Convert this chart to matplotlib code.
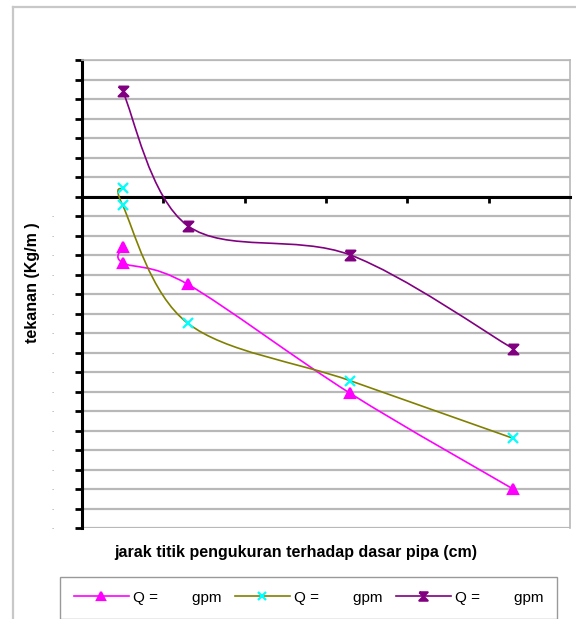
import numpy as np
import matplotlib
matplotlib.use('Agg')
import matplotlib.pyplot as plt
from matplotlib.path import Path
from matplotlib.patches import PathPatch
from matplotlib.lines import Line2D

plt.rcParams['font.family'] = ['Liberation Sans', 'DejaVu Sans']

# data (y in grid units, x in cm)
x_pink = [5, 5, 13, 33, 53]
y_pink = [-2.6, -3.4, -4.5, -10.1, -15.0]
x_cyan = [5, 5, 13, 33, 53]
y_cyan = [0.45, -0.45, -6.5, -9.45, -12.4]
x_purple = [5, 13, 33, 53]
y_purple = [5.4, -1.5, -3.0, -7.8]

series_labels = ['Q =        gpm', 'Q =        gpm', 'Q =        gpm']
y_ticks = list(range(-17, 8))
x_ticks = [0, 10, 20, 30, 40, 50]

# hourglass marker like the Excel one
hg_marker = Path([(-1, 1), (1, 1), (-1, -1), (1, -1), (-1, 1)],
                 [Path.MOVETO, Path.LINETO, Path.LINETO, Path.LINETO, Path.LINETO])


def smooth_path(xs, ys):
    # Excel style smoothed line (Catmull-Rom as cubic bezier)
    pts = np.column_stack([xs, ys]).astype(float)
    n = len(pts)
    verts = [pts[0]]
    codes = [Path.MOVETO]
    for i in range(n - 1):
        p0 = pts[i - 1] if i > 0 else pts[i]
        p1 = pts[i]
        p2 = pts[i + 1]
        p3 = pts[i + 2] if i + 2 < n else pts[i + 1]
        verts += [p1 + (p2 - p0) / 6, p2 - (p3 - p1) / 6, p2]
        codes += [Path.CURVE4] * 3
    return Path(verts, codes)


fig = plt.figure(figsize=(5.76, 6.19), dpi=100)
W, H = 576.0, 619.0
ax = fig.add_axes([82 / W, 1 - 528 / H, (570 - 82) / W, (528 - 60) / H])

# outer chart frame (only left and top visible)
fig.add_artist(Line2D([13 / W, 13 / W], [0, 1 - 7 / H], color='#c8c8c8', lw=1.6))
fig.add_artist(Line2D([13 / W, 1], [1 - 7 / H, 1 - 7 / H], color='#c8c8c8', lw=1.6))

ax.set_xlim(0, 60)
ax.set_ylim(-17, 7)

for yv in y_ticks:
    ax.axhline(yv, color='#b8b8b8', lw=1.6, zorder=1)

ax.spines['bottom'].set_position(('data', 0))
ax.spines['bottom'].set_linewidth(2.2)
ax.spines['left'].set_linewidth(2.2)
for s in ['top', 'right']:
    ax.spines[s].set_color('#b8b8b8')
    ax.spines[s].set_linewidth(1.2)

ax.set_xticks(x_ticks)
ax.set_xticklabels([''] * len(x_ticks))
ax.tick_params(axis='x', direction='out', length=4, width=2, color='black')
ax.set_yticks(y_ticks)
ax.set_yticklabels(['-' if v < 0 else '' for v in y_ticks], fontsize=5, color='#a0a0a0')
ax.tick_params(axis='y', direction='out', length=5, width=2, color='black', pad=15)

series = [
    (x_pink, y_pink, '#ff00ff', '^', '#ff00ff', 7),
    (x_cyan, y_cyan, '#808000', 'x', '#00ffff', 7),
    (x_purple, y_purple, '#800080', hg_marker, '#800080', 7),
]
handles = []
for xs, ys, lc, mk, mc, ms in series:
    ax.add_patch(PathPatch(smooth_path(xs, ys), facecolor='none', edgecolor=lc, lw=1.2, zorder=3))
    ax.plot(xs, ys, ls='none', marker=mk, color=mc, ms=ms, mew=1.6, zorder=4)
    handles.append(Line2D([], [], color=lc, lw=1.2, marker=mk, mfc=mc, mec=mc, ms=6, mew=1.6))

fig.text(296 / W, 1 - 552 / H, 'jarak titik pengukuran terhadap dasar pipa (cm)',
         ha='center', va='center', fontsize=11.5, fontweight='bold')
fig.text(33 / W, 1 - 283 / H, 'tekanan (Kg/m )', rotation=90,
         ha='center', va='center', fontsize=11.5, fontweight='bold')

leg = fig.legend(handles, series_labels, loc='upper left', bbox_to_anchor=(60 / W, 1 - 577 / H),
                 ncol=3, fontsize=11, frameon=True, fancybox=False, borderaxespad=0,
                 handlelength=3.6, handletextpad=0.25, columnspacing=0.9, borderpad=0.9)
leg.get_frame().set_edgecolor('#808080')
leg.get_frame().set_linewidth(1.0)

fig.savefig('out.png', dpi=100)
